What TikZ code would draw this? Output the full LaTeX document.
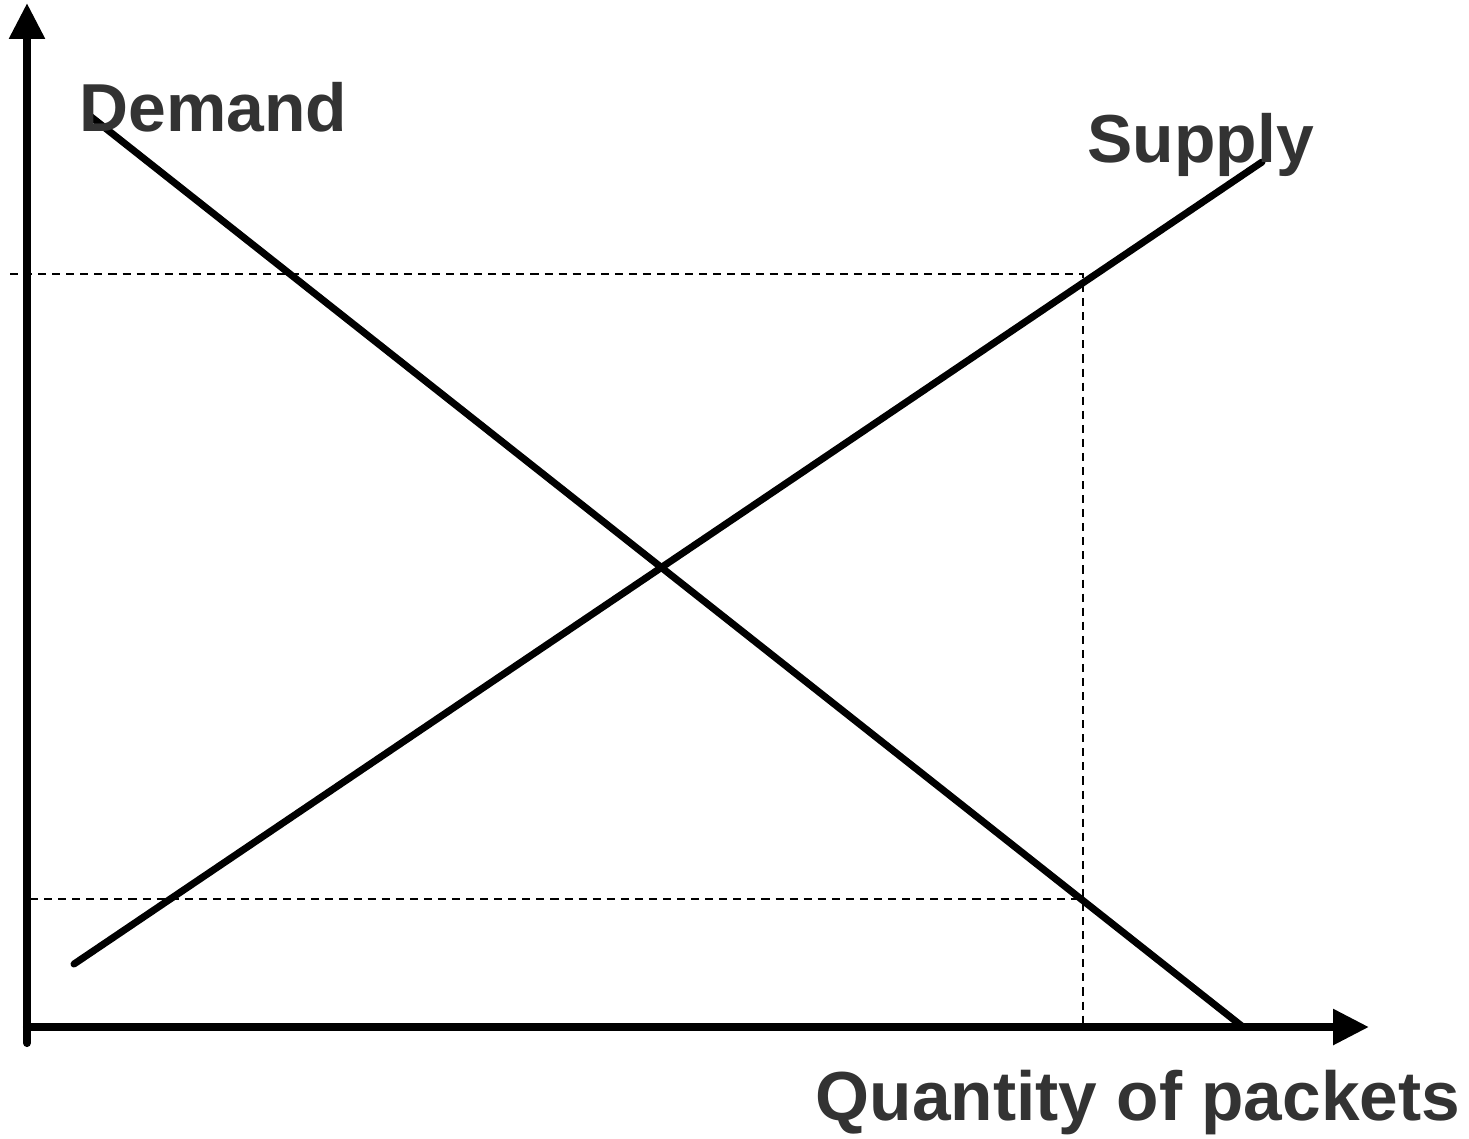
\documentclass[tikz,border=0pt]{standalone}
\usepackage{fontspec}
\setmainfont{Liberation Sans}
\usetikzlibrary{arrows.meta}
\definecolor{labelgray}{HTML}{333333}
\begin{document}
\begin{tikzpicture}[x=0.01cm,y=-0.01cm,
  axis/.style={line width=2.3pt, line cap=round, -{Triangle[length=10.2pt,width=9.7pt]}},
  curve/.style={line width=2pt, line cap=round},
  guide/.style={line width=0.4pt, dash pattern=on 2.3pt off 1.7pt},
  lbl/.style={anchor=base west, inner sep=0, text=labelgray, font=\fontsize{19.3pt}{22pt}\selectfont\bfseries}]
\useasboundingbox (0,0) rectangle (1469,1138);
% axes
\coordinate (ybot) at (27,1043);
\coordinate (ytop) at (27,3);
\coordinate (xstart) at (27,1027);
\coordinate (xend) at (1369,1027);
% guide lines
\coordinate (hiL) at (10,274);
\coordinate (hiR) at (1083,274);
\coordinate (loL) at (30,899);
\coordinate (loR) at (1083,899);
\coordinate (qx) at (1083,1027);
\draw[guide] (hiL) -- (hiR) -- (qx);
\draw[guide] (loL) -- (loR);
\draw[axis] (ybot) -- (ytop);
\draw[axis] (xstart) -- (xend);
% demand and supply
\coordinate (d1) at (90,116);
\coordinate (d2) at (1243,1027);
\coordinate (s1) at (74,964);
\coordinate (s2) at (1262,162);
\draw[curve] (d1) -- (d2);
\draw[curve] (s1) -- (s2);
% labels
\node[lbl] (demand) at (79,131) {Demand};
\node[lbl] (supply) at (1087,162) {Supply};
\node[lbl, font=\fontsize{19.75pt}{22pt}\selectfont\bfseries] (qty) at (815,1120) {Quantity of packets};
\end{tikzpicture}
\end{document}
